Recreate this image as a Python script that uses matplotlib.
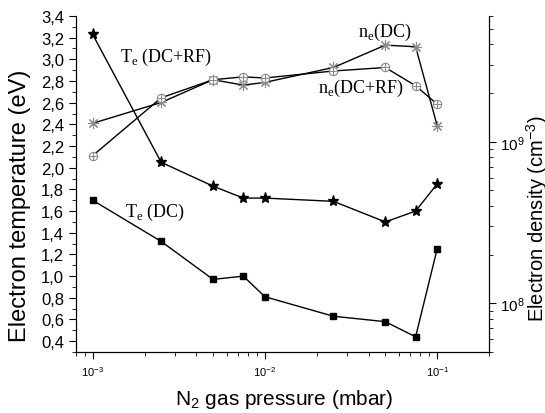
import numpy as np
import matplotlib
matplotlib.use('Agg')
import matplotlib.pyplot as plt
from matplotlib.ticker import FixedLocator, MultipleLocator, FuncFormatter, LogLocator, NullFormatter

plt.rcParams['font.family'] = ['Liberation Sans', 'DejaVu Sans']
plt.rcParams['mathtext.fontset'] = 'custom'
plt.rcParams['mathtext.rm'] = 'Liberation Serif'
plt.rcParams['mathtext.sf'] = 'Liberation Sans'

# N2 gas pressure (mbar)
pressure = [1e-3, 2.5e-3, 5e-3, 7.5e-3, 1e-2, 2.5e-2, 5e-2, 7.5e-2, 1e-1]
# electron temperature (eV)
te_dc = [1.70, 1.32, 0.97, 1.00, 0.81, 0.63, 0.58, 0.44, 1.25]
te_dcrf = [3.23, 2.05, 1.83, 1.72, 1.72, 1.69, 1.50, 1.60, 1.85]
# electron density (cm^-3)
ne_dc = [1.30e9, 1.75e9, 2.42e9, 2.24e9, 2.33e9, 2.88e9, 3.96e9, 3.87e9, 1.26e9]
ne_dcrf = [8.2e8, 1.87e9, 2.42e9, 2.52e9, 2.48e9, 2.74e9, 2.88e9, 2.22e9, 1.71e9]

fig = plt.figure(figsize=(5.45, 4.14), dpi=100)
ax = fig.add_axes([0.1394, 0.1473, 0.7578, 0.8117])
ax2 = ax.twinx()

gray = '#8a8a8a'

ax.plot(pressure, te_dc, color='black', lw=1.0, marker='s', ms=5,
        mfc='black', mec='black', zorder=3)
ax.plot(pressure, te_dcrf, color='black', lw=1.0, marker='*', ms=8,
        mfc='black', mec='black', zorder=3)

ax2.plot(pressure, ne_dc, color='black', lw=1.0, marker=(8, 2, 0), ms=8,
         mec=gray, mew=0.8, zorder=3)
ax2.plot(pressure, ne_dcrf, color='black', lw=1.0, marker='o', ms=6,
         mfc='white', mec=gray, mew=0.8, zorder=3)
ax2.plot(pressure, ne_dcrf, ls='none', marker='+', ms=6,
         mec=gray, mew=0.8, zorder=4)

ax.set_xscale('log')
ax.set_xlim(0.0008, 0.2)
ax.set_ylim(0.3, 3.4)
ax2.set_yscale('log')
ax2.set_ylim(5e7, 6e9)

for a in (ax, ax2):
    a.spines['top'].set_visible(False)

ax.yaxis.set_major_locator(MultipleLocator(0.2))
ax.yaxis.set_minor_locator(MultipleLocator(0.1))
ax.yaxis.set_major_formatter(FuncFormatter(lambda v, p: ('%.1f' % v).replace('.', ',')))
ax.tick_params(axis='y', which='major', direction='out', length=5, labelsize=12)
ax.tick_params(axis='y', which='minor', direction='out', length=3)
ax.tick_params(axis='x', which='major', direction='out', length=5, labelsize=8)
ax.tick_params(axis='x', which='minor', direction='out', length=3)
ax.xaxis.set_major_locator(FixedLocator([1e-3, 1e-2, 1e-1]))
ax.xaxis.set_minor_locator(LogLocator(base=10, subs=np.arange(2, 10)))
ax.xaxis.set_minor_formatter(NullFormatter())

ax2.yaxis.set_major_locator(FixedLocator([1e8, 1e9]))
ax2.yaxis.set_minor_locator(LogLocator(base=10, subs=np.arange(2, 10)))
ax2.yaxis.set_minor_formatter(NullFormatter())
ax2.tick_params(axis='y', which='major', direction='out', length=5, labelsize=11, pad=3)
ax2.tick_params(axis='y', which='minor', direction='out', length=3)

ax.set_ylabel('Electron temperature (eV)', fontsize=17)
ax.yaxis.set_label_coords(-0.109, 0.4375)
ax.set_xlabel(r'N$_\mathsf{2}$ gas pressure (mbar)', fontsize=15)
ax.xaxis.set_label_coords(0.505, -0.105)
ax2.set_ylabel(r'Electron density (cm$^\mathsf{-3}$)', fontsize=14.5)
ax2.yaxis.set_label_coords(1.085, 0.40)

lab = dict(fontsize=13, family='Liberation Serif', transform=ax.transAxes)
ax.text(0.107, 0.866, r'T$_\mathrm{e}$ (DC+RF)', **lab)
ax.text(0.119, 0.405, r'T$_\mathrm{e}$ (DC)', **lab)
ax.text(0.683, 0.940, r'n$_\mathrm{e}$(DC)', **lab)
ax.text(0.586, 0.774, r'n$_\mathrm{e}$(DC+RF)', **lab)

plt.savefig('out.png', dpi=100)
